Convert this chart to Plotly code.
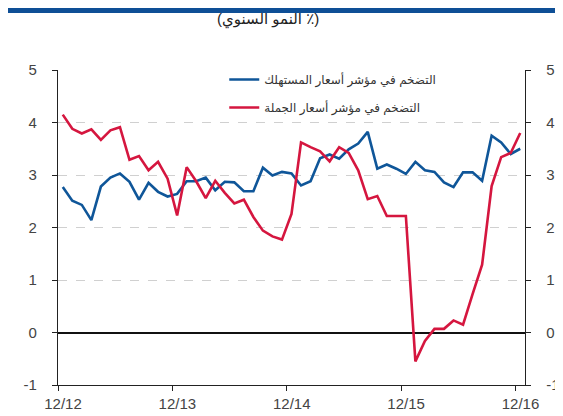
import plotly.graph_objects as go

months = list(range(49))  # Dec 2012 .. Dec 2016
cpi = [2.77, 2.51, 2.43, 2.14, 2.78, 2.95, 3.03, 2.87, 2.53, 2.85, 2.68, 2.59,
       2.64, 2.88, 2.88, 2.95, 2.71, 2.87, 2.86, 2.69, 2.69, 3.14, 2.99, 3.06,
       3.03, 2.80, 2.88, 3.32, 3.39, 3.31, 3.49, 3.60, 3.82, 3.12, 3.20, 3.12,
       3.02, 3.25, 3.09, 3.06, 2.86, 2.77, 3.05, 3.05, 2.89, 3.75, 3.62, 3.40,
       3.50]
ppi = [4.15, 3.88, 3.79, 3.87, 3.67, 3.85, 3.91, 3.29, 3.36, 3.09, 3.25, 2.93,
       2.23, 3.15, 2.88, 2.56, 2.89, 2.66, 2.46, 2.53, 2.20, 1.94, 1.83, 1.77,
       2.26, 3.62, 3.53, 3.45, 3.26, 3.53, 3.42, 3.09, 2.54, 2.60, 2.22, 2.22,
       2.22, -0.55, -0.16, 0.07, 0.07, 0.23, 0.15, 0.73, 1.29, 2.79, 3.34, 3.42,
       3.80]
tick_pos = [-0.5, 11.5, 23.5, 35.5, 47.5]
tick_labels = ["12/12", "12/13", "12/14", "12/15", "12/16"]
y_ticks = [-1, 0, 1, 2, 3, 4, 5]
y_tick_labels = ["\u200E-1", "0", "1", "2", "3", "4", "5"]

name_cpi = "التضخم في مؤشر أسعار المستهلك"
name_ppi = "التضخم في مؤشر أسعار الجملة"
title_text = "(النمو السنوي ٪)"

BLUE = "#0f5699"
RED = "#d5163f"
FONT = "Liberation Sans, Arial, DejaVu Sans, sans-serif"

fig = go.Figure()
fig.add_trace(go.Scatter(x=months, y=cpi, mode="lines", name=name_cpi,
                         line=dict(color=BLUE, width=2.6), legendgroup="a"))
fig.add_trace(go.Scatter(x=months, y=ppi, mode="lines", name=name_ppi,
                         line=dict(color=RED, width=2.6), legendgroup="b",
                         yaxis="y2"))

axis_common = dict(range=[-1, 5], tickvals=y_ticks, ticktext=y_tick_labels,
                   ticks="outside", ticklen=5,
                   tickcolor="#222", showline=True, linecolor="#222", linewidth=1.3,
                   tickfont=dict(family=FONT, size=15, color="#444"),
                   fixedrange=True)

fig.update_layout(
    width=563, height=416,
    margin=dict(l=50, r=31, t=62, b=28, pad=0),
    paper_bgcolor="white", plot_bgcolor="white",
    showlegend=True,
    legend=dict(x=0.356, xanchor="left", y=1.016, yanchor="top",
                bgcolor="rgba(0,0,0,0)", tracegroupgap=9,
                font=dict(family=FONT, size=12, color="#333")),
    title=dict(text=title_text, x=0.462, xanchor="center", xref="container",
               y=1 - 5 / 416, yanchor="top", yref="container",
               font=dict(family=FONT, size=15, color="#222")),
    xaxis=dict(range=[-0.5, 48.5], tickvals=tick_pos, ticktext=tick_labels,
               ticks="outside", ticklen=5, tickcolor="#222", showline=True,
               linecolor="#222", linewidth=1.3, showgrid=False, zeroline=False,
               ticklabelshift=5,
               tickfont=dict(family=FONT, size=15, color="#444")),
    yaxis=dict(side="left", showgrid=True, gridcolor="#d0d0d0", griddash="dash",
               gridwidth=1, ticklabelstandoff=12, zeroline=True,
               zerolinecolor="#111", zerolinewidth=1.5, **axis_common),
    yaxis2=dict(side="right", overlaying="y", showgrid=False, zeroline=False,
                ticklabelstandoff=12, **axis_common),
    shapes=[
        dict(type="rect", xref="paper", yref="paper", x0=-0.2, x1=1.2,
             y0=1 + 59 / 326, y1=1 + 66 / 326, line=dict(width=0),
             fillcolor="#0e4f96"),
    ],
)

fig.write_html("out.html")
